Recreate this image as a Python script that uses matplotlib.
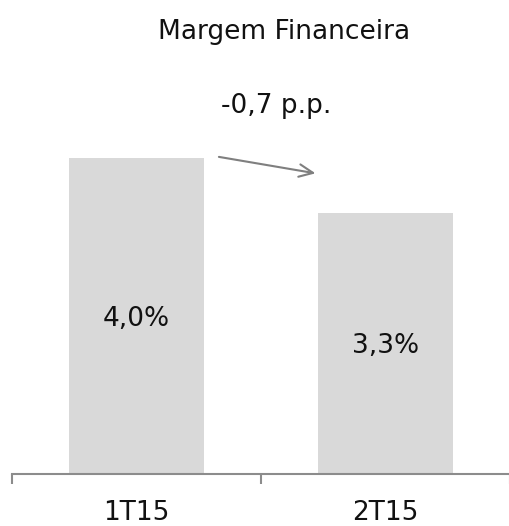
import matplotlib.pyplot as plt
import numpy as np

# -----------------------------
# Data
# -----------------------------
categories = ["1T15", "2T15"]
values = [4.0, 3.3]
value_labels = ["4,0%", "3,3%"]
title = "Margem Financeira"
delta_label = "-0,7 p.p."

BAR_COLOR = "#d9d9d9"
AXIS_COLOR = "#8c8c8c"
TEXT_COLOR = "#111111"
FS = 19

# -----------------------------
# Figure
# -----------------------------
fig = plt.figure(figsize=(5.1, 5.26), dpi=100)
ax = fig.add_axes([12 / 510, 52 / 526, 498 / 510, 316 / 526])

x = np.arange(len(categories))
ax.bar(x, values, width=0.54, color=BAR_COLOR, zorder=2)

ax.set_xlim(-0.5, 1.46)
ax.set_ylim(0, 4.0)

# value labels centred in the bars
for xi, v, lab in zip(x, values, value_labels):
    ax.annotate(lab, (xi, v / 2), xytext=(0, -7), textcoords="offset points",
                ha="center", va="baseline", fontsize=FS, color=TEXT_COLOR)

# arrow between the bars
ax.annotate("", xy=(x[1] - 0.27, values[1] + 0.5), xytext=(x[0] + 0.32, values[0] + 0.02),
            arrowprops=dict(arrowstyle="->,head_length=1.0,head_width=0.45",
                            color="#7f7f7f", lw=1.5), annotation_clip=False)

# axes styling
for s in ["top", "right", "left"]:
    ax.spines[s].set_visible(False)
ax.spines["bottom"].set_color(AXIS_COLOR)
ax.spines["bottom"].set_linewidth(1.5)
ax.set_yticks([])

ax.set_xticks([-0.5, 0.5, 1.5])
ax.set_xticklabels([])
ax.tick_params(axis="x", which="major", length=7, width=1.5, color=AXIS_COLOR)
ax.set_xticks(x, minor=True)
ax.set_xticklabels(categories, minor=True, fontsize=FS, color=TEXT_COLOR)
ax.tick_params(axis="x", which="minor", length=0, pad=19)

fig.text(284 / 510, 1 - 39 / 526, title, ha="center", va="baseline",
         fontsize=FS, color=TEXT_COLOR)
fig.text(276 / 510, 1 - 113 / 526, delta_label, ha="center", va="baseline",
         fontsize=FS, color=TEXT_COLOR)

fig.savefig("out.png", dpi=100)
